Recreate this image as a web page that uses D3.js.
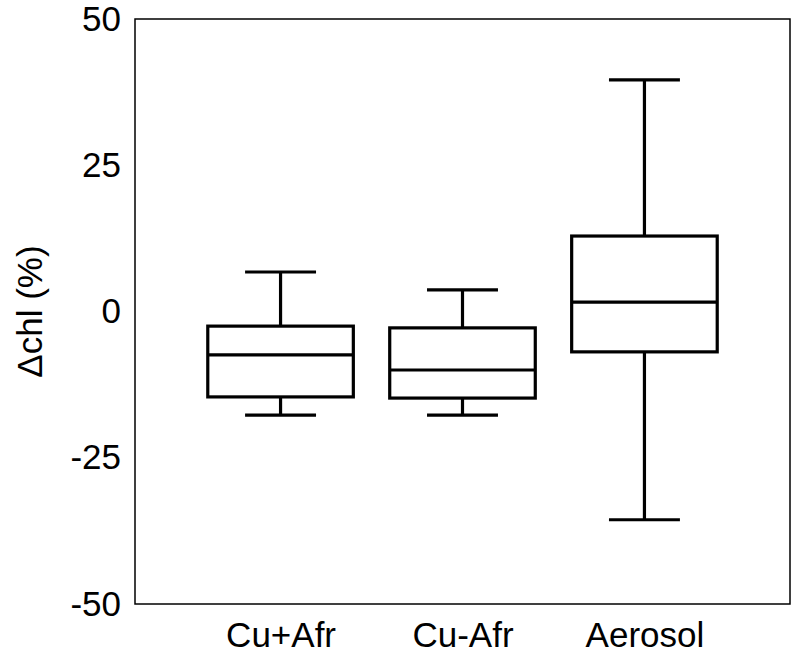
<!DOCTYPE html>
<html>
<head>
<meta charset="utf-8">
<script src="https://cdn.jsdelivr.net/npm/d3@7"></script>
<style>
body { margin: 0; background: #fff; }
text { font-family: "Liberation Sans", Arial, sans-serif; fill: #000; }
</style>
</head>
<body>
<script>
//box plot of chlorophyll change per group

var groups = ["Cu+Afr", "Cu-Afr", "Aerosol"];
var whiskerLow = [-17.7, -17.7, -35.6];
var q1 = [-14.6, -14.8, -6.9];
var medians = [-7.4, -10.0, 1.6];
var q3 = [-2.5, -2.8, 12.9];
var whiskerHigh = [6.75, 3.7, 39.6];
var yTicks = [-50, -25, 0, 25, 50];

var width = 795, height = 660;
var mLeft = 135, mRight = 790, mTop = 19, mBottom = 604;

var svg = d3.select("body").append("svg")
    .attr("width", width)
    .attr("height", height);

var x = d3.scaleLinear().domain([0.2, 3.8]).range([mLeft, mRight]);
var y = d3.scaleLinear().domain([-50, 50]).range([mBottom, mTop]);

//frame
svg.append("rect")
    .attr("x", mLeft).attr("y", mTop)
    .attr("width", mRight - mLeft).attr("height", mBottom - mTop)
    .attr("fill", "none").attr("stroke", "#000").attr("stroke-width", 1.5);

//y axis labels, no tick marks, plain hyphen for minus
var yAxis = d3.axisLeft(y).tickValues(yTicks).tickFormat(function(d){ return String(d); })
    .tickSize(0).tickPadding(14);
var gy = svg.append("g").attr("transform", "translate(" + mLeft + ",0)").call(yAxis);
gy.select(".domain").remove();
gy.selectAll("text").style("font-size", "35px");
gy.attr("font-family", null).attr("font-size", null);

//x axis labels
var xAxis = d3.axisBottom(x).tickValues([1, 2, 3]).tickFormat(function(d){ return groups[d - 1]; }).tickSize(0).tickPadding(18);
var gx = svg.append("g").attr("transform", "translate(0," + mBottom + ")").call(xAxis);
gx.select(".domain").remove();
gx.selectAll("text").style("font-size", "35px");
gx.attr("font-family", null).attr("font-size", null);

//y label
svg.append("text")
    .attr("transform", "translate(42," + y(0) + ") rotate(-90)")
    .attr("text-anchor", "middle")
    .style("font-size", "35px")
    .text("\u0394chl (%)");

var data = groups.map(function(g, i){
    return {i: i + 1, lo: whiskerLow[i], q1: q1[i], med: medians[i], q3: q3[i], hi: whiskerHigh[i]};
});

var boxHalf = 0.4, capHalf = 0.195;
var boxes = svg.selectAll(".box").data(data).enter().append("g")
    .attr("class", "box")
    .attr("stroke", "#000").attr("stroke-width", 3.2).attr("fill", "none");

//whiskers
boxes.append("line")
    .attr("x1", function(d){ return x(d.i); }).attr("x2", function(d){ return x(d.i); })
    .attr("y1", function(d){ return y(d.q3); }).attr("y2", function(d){ return y(d.hi); });
boxes.append("line")
    .attr("x1", function(d){ return x(d.i); }).attr("x2", function(d){ return x(d.i); })
    .attr("y1", function(d){ return y(d.q1); }).attr("y2", function(d){ return y(d.lo); });
//caps
boxes.append("line")
    .attr("x1", function(d){ return x(d.i - capHalf); }).attr("x2", function(d){ return x(d.i + capHalf); })
    .attr("y1", function(d){ return y(d.hi); }).attr("y2", function(d){ return y(d.hi); });
boxes.append("line")
    .attr("x1", function(d){ return x(d.i - capHalf); }).attr("x2", function(d){ return x(d.i + capHalf); })
    .attr("y1", function(d){ return y(d.lo); }).attr("y2", function(d){ return y(d.lo); });
//box
boxes.append("rect")
    .attr("x", function(d){ return x(d.i - boxHalf); })
    .attr("width", function(d){ return x(d.i + boxHalf) - x(d.i - boxHalf); })
    .attr("y", function(d){ return y(d.q3); })
    .attr("height", function(d){ return y(d.q1) - y(d.q3); });
//median
boxes.append("line")
    .attr("x1", function(d){ return x(d.i - boxHalf); }).attr("x2", function(d){ return x(d.i + boxHalf); })
    .attr("y1", function(d){ return y(d.med); }).attr("y2", function(d){ return y(d.med); });
</script>
</body>
</html>
